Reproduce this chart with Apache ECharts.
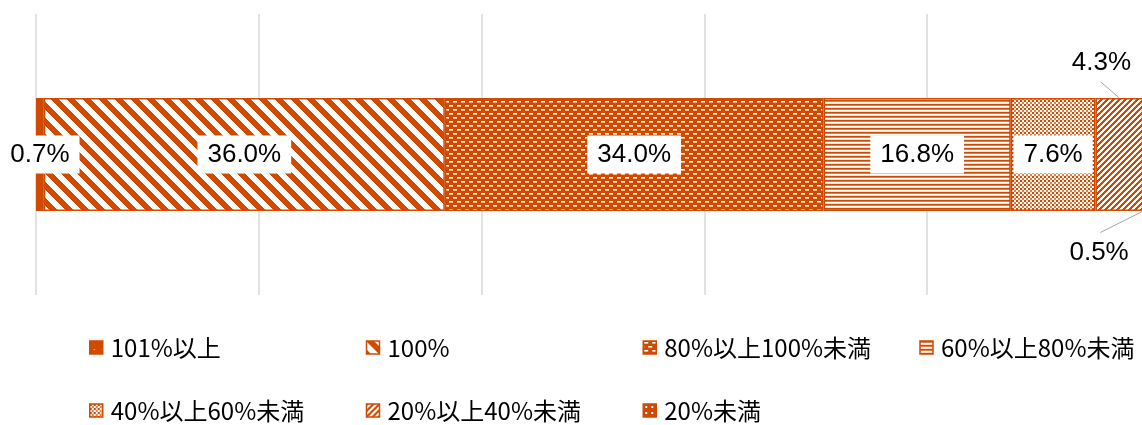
<!DOCTYPE html>
<html>
<head>
<meta charset="utf-8">
<script src="https://cdn.jsdelivr.net/npm/echarts@6/dist/echarts.min.js"></script>
<style>
  html, body { margin: 0; padding: 0; background: #ffffff; }
  #chart { width: 1142px; height: 425px; }
</style>
</head>
<body>
<div id="chart"></div>
<script>
// ---- data ----
const categories = ['全体'];
const seriesNames = ['101%以上', '100%', '80%以上100%未満', '60%以上80%未満', '40%以上60%未満', '20%以上40%未満', '20%未満'];
const seriesValues = [0.7, 36.0, 34.0, 16.8, 7.6, 4.3, 0.5];
const axisTicks = [0, 20, 40, 60, 80, 100];

// ---- style ----
const ORANGE = '#D04A02';
const MID = '#E47C44';
const LIGHT = '#F2B690';
const PALE = '#F9DCCB';
const BAR_W = 113;
const LABEL_FONT = '"Liberation Sans", Arial, sans-serif';
const LEGEND_FONT = '"Noto Sans CJK JP", "Noto Sans", sans-serif';

// small bitmap tiles used as hatch fills
function tile(w, h, draw) {
  const c = document.createElement('canvas');
  c.width = w; c.height = h;
  const g = c.getContext('2d');
  draw(g, w, h);
  return { image: c, repeat: 'repeat' };
}
function px(g, color, x, y, w, h) { g.fillStyle = color; g.fillRect(x, y, w || 1, h || 1); }

const patterns = [
  // near-solid with sparse dots
  tile(8, 16, (g, w, h) => { px(g, ORANGE, 0, 0, w, h); px(g, PALE, 4, 8, 1, 1); }),
  // wide downward diagonal
  tile(16, 16, (g, w, h) => {
    px(g, '#fff', 0, 0, w, h);
    for (let y = 0; y < h; y++) for (let k = 0; k < 8; k++) px(g, ORANGE, (y + k) % w, y);
  }),
  // brick of short white dashes on orange
  tile(8, 8, (g, w, h) => {
    px(g, ORANGE, 0, 0, w, h);
    for (let k = 0; k < 4; k++) {
      px(g, '#fff', 1 + k, 1); px(g, LIGHT, 1 + k, 2);
      px(g, '#fff', (5 + k) % w, 5); px(g, LIGHT, (5 + k) % w, 6);
    }
  }),
  // narrow horizontal lines
  tile(1, 4, (g) => { px(g, ORANGE, 0, 0); px(g, '#E27D45', 0, 1); px(g, '#fff', 0, 2); px(g, PALE, 0, 3); }),
  // small checker confetti
  tile(8, 8, (g, w, h) => {
    px(g, '#fff', 0, 0, w, h);
    px(g, ORANGE, 0, 0, 2, 2); px(g, ORANGE, 4, 0, 2, 2); px(g, ORANGE, 0, 4, 2, 2); px(g, ORANGE, 4, 4, 2, 2);
    px(g, MID, 2, 2, 2, 2); px(g, MID, 6, 2, 2, 2); px(g, MID, 2, 6, 2, 2); px(g, MID, 6, 6, 2, 2);
    px(g, PALE, 2, 0, 2, 2); px(g, PALE, 6, 4, 2, 2);
  }),
  // narrow upward diagonal
  tile(6, 6, (g, w, h) => {
    px(g, '#fff', 0, 0, w, h);
    for (let y = 0; y < h; y++) for (let k = 0; k < 3; k++) px(g, ORANGE, (w - 1 - y + k + w) % w, y);
  }),
  // dotted grid
  tile(6, 6, (g, w, h) => { px(g, ORANGE, 0, 0, w, h); px(g, '#fff', 2, 2, 2, 2); })
];

const fmt = (p) => p.value.toFixed(1) + '%';
const baseLabel = {
  show: true,
  position: 'inside',
  formatter: fmt,
  color: '#000',
  fontFamily: LABEL_FONT,
  fontSize: 26,
  lineHeight: 26,
  backgroundColor: '#fff',
  padding: [6, 10]
};

const TOP_CALLOUT = 5;     // label lifted above the bar
const BOTTOM_CALLOUT = 6;  // label dropped below the bar
const leaderStyle = { color: '#A6A6A6', width: 1 };

const series = seriesNames.map((name, i) => {
  const s = {
    name: name,
    type: 'bar',
    stack: 'total',
    barWidth: BAR_W,
    data: [seriesValues[i]],
    itemStyle: { color: patterns[i], borderColor: ORANGE, borderWidth: 1.5 },
    label: Object.assign({}, baseLabel),
    emphasis: { disabled: true }
  };
  if (i === TOP_CALLOUT) {
    s.label.position = 'top';
    s.labelLayout = { dx: -18, dy: -11 };
  }
  if (i === BOTTOM_CALLOUT) {
    s.label.position = 'bottom';
    s.labelLayout = { dx: -47, dy: 18 };
  }
  return s;
});

const chart = echarts.init(document.getElementById('chart'), null, { renderer: 'canvas' });
chart.setOption({
  animation: false,
  backgroundColor: '#ffffff',
  grid: { left: 36, top: 14, width: 1114, height: 281, containLabel: false, outerBoundsMode: 'none' },
  xAxis: {
    type: 'value',
    min: axisTicks[0],
    max: axisTicks[axisTicks.length - 1],
    interval: axisTicks[1] - axisTicks[0],
    axisLine: { show: false },
    axisTick: { show: false },
    axisLabel: { show: false },
    splitLine: { show: true, lineStyle: { color: '#D9D9D9', width: 1.5 } }
  },
  yAxis: {
    type: 'category',
    data: categories,
    show: false
  },
  legend: {
    data: seriesNames,
    left: 84,
    top: 311,
    width: 1110,
    orient: 'horizontal',
    icon: 'rect',
    itemWidth: 13,
    itemHeight: 13,
    itemGap: 0,
    selectedMode: false,
    itemStyle: { borderWidth: 1.5 },
    textStyle: {
      fontFamily: LEGEND_FONT,
      fontSize: 24,
      color: '#000',
      width: 255,
      lineHeight: 63,
      padding: [0, 0, 0, 3]
    }
  },
  series: series
});

// leader lines from the callout segments to their moved labels
(function () {
  const starts = [];
  let acc = 0;
  seriesValues.forEach((v) => { starts.push(acc); acc += v; });
  const toPx = (x) => chart.convertToPixel({ gridIndex: 0 }, [x, categories[0]]);

  // lifted label: from the middle of the segment's top edge
  const top = toPx(starts[TOP_CALLOUT] + seriesValues[TOP_CALLOUT] / 2);
  const tx = top[0], ty = top[1] - BAR_W / 2;
  // dropped label: from the segment's lower left corner
  const bot = toPx(starts[BOTTOM_CALLOUT]);
  const bx = bot[0], by = bot[1] + BAR_W / 2;

  const line = (x1, y1, x2, y2) => ({
    type: 'line', silent: true, z: 10,
    shape: { x1: x1, y1: y1, x2: x2, y2: y2 },
    style: { stroke: leaderStyle.color, lineWidth: leaderStyle.width }
  });
  chart.setOption({
    graphic: [
      line(tx, ty, tx - 18.5, ty - 16),
      line(bx, by, bx - 43, by + 21.5)
    ]
  });
})();
</script>
</body>
</html>
